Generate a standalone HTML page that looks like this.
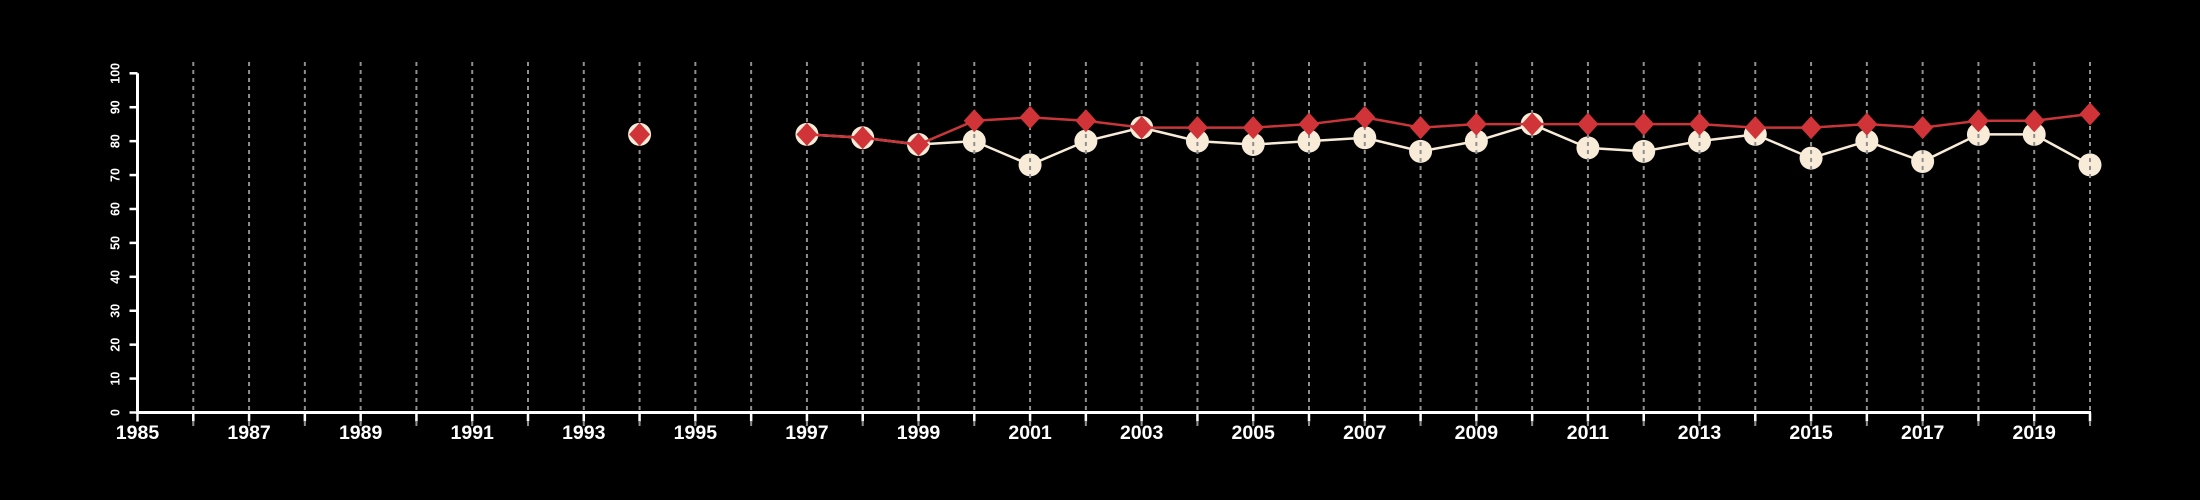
<!DOCTYPE html>
<html><head><meta charset="utf-8">
<style>
html,body{margin:0;padding:0;background:#000;}
svg{display:block;}
text{font-family:"Liberation Sans",sans-serif;font-weight:bold;fill:#fff;}
</style></head>
<body>
<svg id="chart" width="2200" height="500" viewBox="0 0 2200 500" xmlns="http://www.w3.org/2000/svg">
<rect width="2200" height="500" fill="#000"/>
<g id="cream-layer"></g>
<g id="grid"></g>
<g id="axes"></g>
<g id="red-layer"></g>
</svg>
<script>
const years = [1994,1995,1996,1997,1998,1999,2000,2001,2002,2003,2004,2005,2006,2007,2008,2009,2010,2011,2012,2013,2014,2015,2016,2017,2018,2019,2020];
const seriesA = [82,null,null,82,81,79,80,73,80,84,80,79,80,81,77,80,85,78,77,80,82,75,80,74,82,82,73];
const seriesB = [82,null,null,82,81,79,86,87,86,84,84,84,85,87,84,85,85,85,85,85,84,84,85,84,86,86,88];
const xTickLabels = [1985,1987,1989,1991,1993,1995,1997,1999,2001,2003,2005,2007,2009,2011,2013,2015,2017,2019];
const yTickLabels = [0,10,20,30,40,50,60,70,80,90,100];
const gridYears = [1986,1987,1988,1989,1990,1991,1992,1993,1994,1995,1996,1997,1998,1999,2000,2001,2002,2003,2004,2005,2006,2007,2008,2009,2010,2011,2012,2013,2014,2015,2016,2017,2018,2019,2020];

const NS = "http://www.w3.org/2000/svg";
const X0 = 1985, X1 = 2020, PX0 = 137.5, PX1 = 2090;
const Y0 = 0, Y1 = 100, PY0 = 412.5, PY1 = 73.3;
function xs(v){return PX0 + (v - X0) * (PX1 - PX0) / (X1 - X0);}
function ys(v){return PY0 + (v - Y0) * (PY1 - PY0) / (Y1 - Y0);}
function mk(tag, attrs, parent){const e=document.createElementNS(NS,tag);for(const k in attrs)e.setAttribute(k,attrs[k]);parent.appendChild(e);return e;}

const grid = document.getElementById('grid');
const axes = document.getElementById('axes');
const cream = document.getElementById('cream-layer');
const red = document.getElementById('red-layer');

function segments(vals){
  const segs=[];let cur=[];
  vals.forEach((v,i)=>{if(v===null){if(cur.length)segs.push(cur);cur=[];}else cur.push([xs(years[i]),ys(v)]);});
  if(cur.length)segs.push(cur);return segs;
}

segments(seriesA).forEach(s=>{
  if(s.length>1){
    const l=mk('polyline',{points:s.map(p=>p.join(',')).join(' '),fill:'none',stroke:'#f8ecd8','stroke-width':2.5},cream);
    
    
  }
});
seriesA.forEach((v,i)=>{
  if(v===null)return;
  const c=mk('circle',{cx:xs(years[i]),cy:ys(v),r:11.5,fill:'#f8ecd8'},cream);
  
  
});

gridYears.forEach(y=>{
  const g=mk('line',{x1:xs(y),x2:xs(y),y1:62,y2:428,stroke:'#8f8f8f','stroke-width':2,'stroke-dasharray':'4,4'},grid);
  
  
});

let a=mk('line',{x1:PX0,x2:xs(X1)+1,y1:PY0,y2:PY0,stroke:'#fff','stroke-width':3},axes);


a=mk('line',{x1:PX0,x2:PX0,y1:ys(100),y2:PY0+1.5,stroke:'#fff','stroke-width':3},axes);


for(let y=X0;y<=X1;y++){
  const t=mk('line',{x1:xs(y),x2:xs(y),y1:PY0,y2:PY0+9,stroke:'#fff','stroke-width':2.5},axes);
  
  
}
xTickLabels.forEach(y=>{
  const t=mk('text',{x:xs(y),y:439,'text-anchor':'middle','font-size':19.5},axes);
  t.textContent=y;
  
  
});
yTickLabels.forEach(v=>{
  const tk=mk('line',{x1:PX0-8,x2:PX0,y1:ys(v),y2:ys(v),stroke:'#fff','stroke-width':2.5},axes);
  
  
  const t=mk('text',{x:0,y:0,'text-anchor':'middle','font-size':12.5,transform:'translate(119.5,'+ys(v)+') rotate(-90)'},axes);
  t.textContent=v;
  
  
});

segments(seriesB).forEach(s=>{
  if(s.length>1){
    const l=mk('polyline',{points:s.map(p=>p.join(',')).join(' '),fill:'none',stroke:'#c8363a','stroke-width':2.5},red);
    
    
  }
});
seriesB.forEach((v,i)=>{
  if(v===null)return;
  const x=xs(years[i]),y=ys(v);
  const d=mk('polygon',{points:[[x,y-11.5],[x+10.5,y],[x,y+11.5],[x-10.5,y]].map(p=>p.join(',')).join(' '),fill:'#d13438'},red);
  
  
});
</script>
</body></html>
